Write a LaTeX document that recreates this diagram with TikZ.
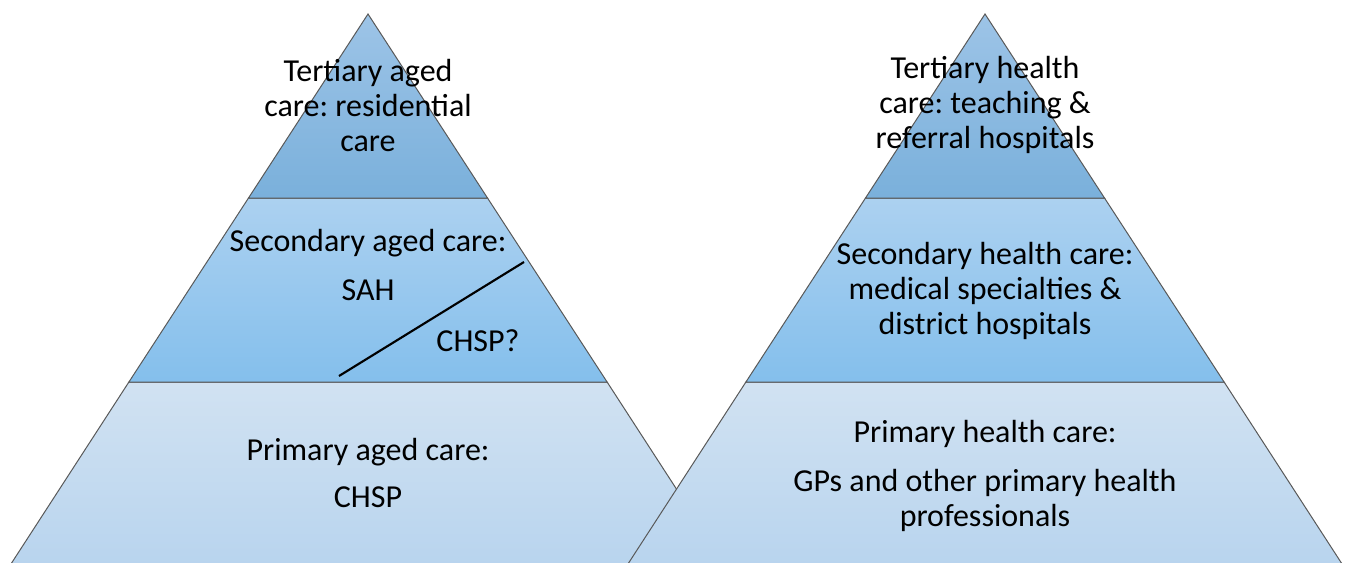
\documentclass[tikz,border=0pt]{standalone}
\usepackage{fontspec}
\setmainfont{Carlito}
\usepackage{tikz}
\frenchspacing

\definecolor{edgegray}{RGB}{89,89,89}
\definecolor{topA}{RGB}{157,196,231}
\definecolor{topB}{RGB}{122,176,219}
\definecolor{midA}{RGB}{172,209,240}
\definecolor{midB}{RGB}{132,191,236}
\definecolor{lowA}{RGB}{209,226,242}
\definecolor{lowB}{RGB}{184,212,238}

\tikzset{
  tier/.style={draw=edgegray, line width=0.75},
  label/.style={inner sep=0.75pt, align=center, font=\fontsize{24}{26.25}\selectfont}
}

\begin{document}
\begin{tikzpicture}[x=0.75pt,y=0.75pt,yscale=-1,xscale=1]
    \useasboundingbox (0,0) rectangle (1349,562);
    \clip (0,0) rectangle (1349,562);
    % two pyramids, the right one drawn over the left one
    \foreach \cx in {368,985}{
      \shade[tier, top color=lowA, bottom color=lowB] (\cx-239.1,382) -- (\cx+239.1,382) -- (\cx+359,567) -- (\cx-359,567) -- cycle ;
      \shade[tier, top color=midA, bottom color=midB] (\cx-119.5,198) -- (\cx+119.5,198) -- (\cx+239.1,382) -- (\cx-239.1,382) -- cycle ;
      \shade[tier, top color=topA, bottom color=topB] (\cx,14) -- (\cx+119.5,198) -- (\cx-119.5,198) -- cycle ;
    }
    % left pyramid
    \node[label] (tertAged) at (368,105) {Tertiary aged\\care: residential\\care};
    \node[label] (secAged) at (368,243) {Secondary aged care:};
    \node[label] (sah) at (368,290) {SAH};
    \node[label] (chspq) at (478,341) {CHSP?};
    \node[label] (primAged) at (368,452) {Primary aged care:};
    \node[label] (chsp) at (368,497) {CHSP};
    \coordinate (splitA) at (339,376);
    \coordinate (splitB) at (524,262);
    \draw[line width=1.6] (splitA) -- (splitB) ;
    % right pyramid
    \node[label] (tertHealth) at (985,105) {Tertiary health\\care: teaching \&\\referral hospitals};
    \node[label] (secHealth) at (985,291) {Secondary health care:\\medical specialties \&\\district hospitals};
    \node[label] (primHealth) at (985,434) {Primary health care:};
    \node[label] (gps) at (985,500) {GPs and other primary health\\professionals};
\end{tikzpicture}
\end{document}
